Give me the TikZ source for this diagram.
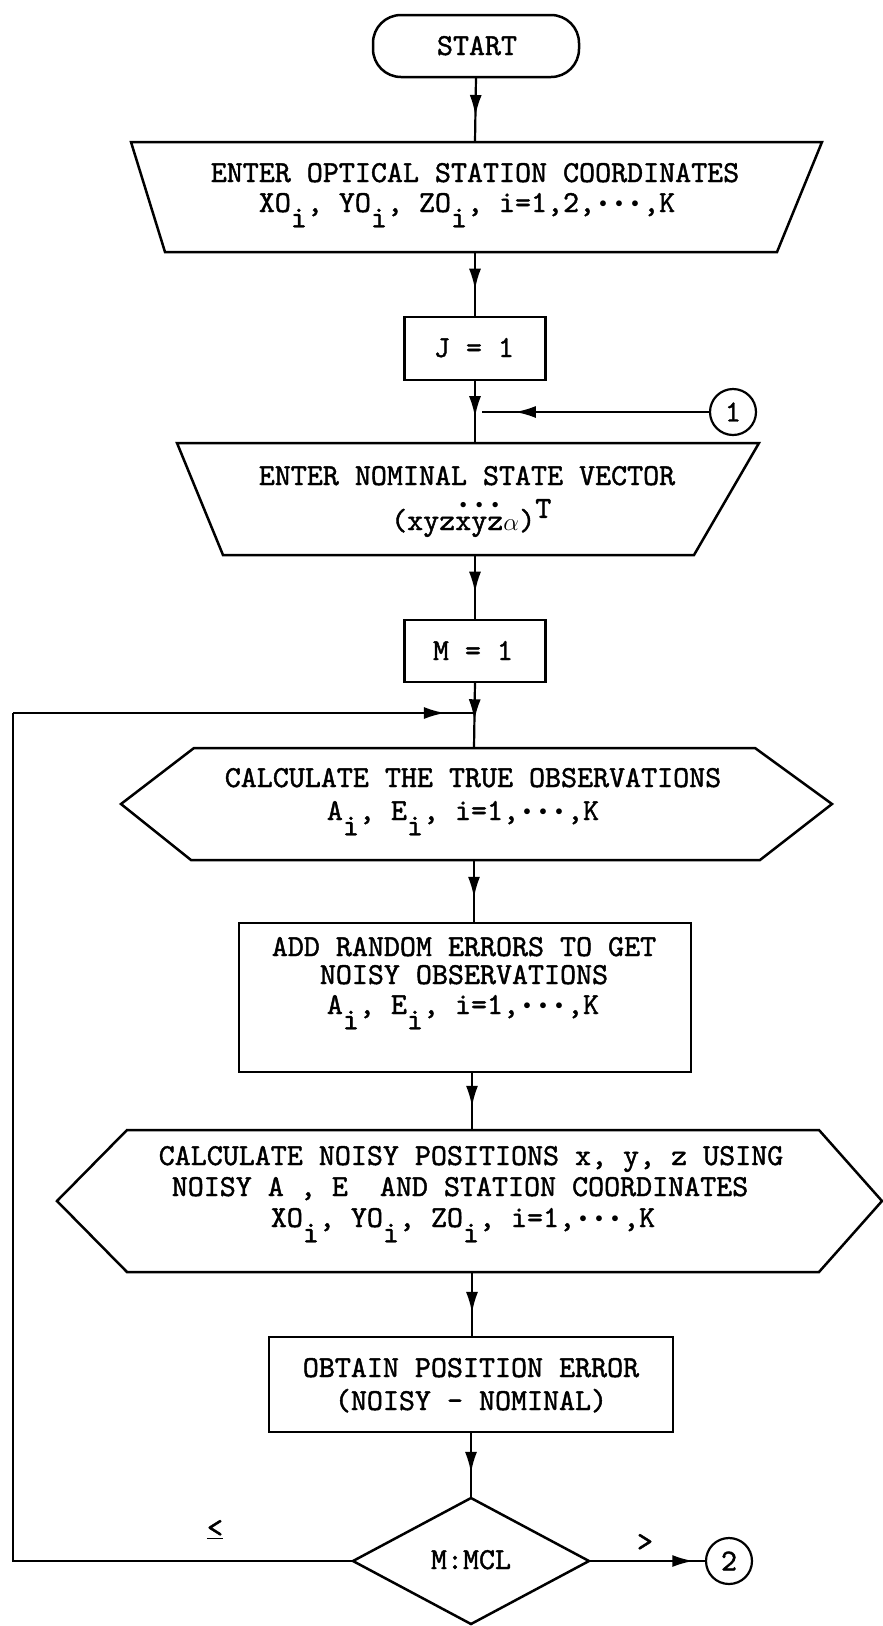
\documentclass[tikz,border=0pt]{standalone}
\usepackage{fontspec}
\usepackage{graphicx}
\usetikzlibrary{arrows.meta,decorations.markings}
\newfontfamily\tyface{lmmono10-regular.otf}[FakeBold=1.4]
\newcommand\tyf{\fontsize{30.5}{27}\selectfont\tyface}
\newcommand\sbi{\raisebox{-0.5em}{i}}
\newcommand\bul{\makebox[0.525em]{\raisebox{0.16em}{\scalebox{0.6}{$\bullet$}}}}
\newcommand\dch[1]{\makebox[0pt][l]{\raisebox{0.72em}{\makebox[0.525em]{\scalebox{0.55}{$\bullet$}}}}#1}
\begin{document}
\begin{tikzpicture}[x=1pt,y=-1pt,
  outline/.style={draw,line width=2.5pt,line join=miter},
  box/.style={outline,inner sep=0pt,outer sep=0pt},
  txt/.style={font=\tyf,anchor=base,inner sep=0pt},
  flow/.style={line width=2.2pt},
  midtip/.style={postaction={decorate},decoration={markings,mark=at position #1 with {\arrow{Latex[length=21pt,width=12pt]}}}},
  conn/.style={draw,circle,line width=2.2pt,minimum size=46pt,inner sep=0pt,font=\tyf}
]
\useasboundingbox (0,0) rectangle (883,1626);

% START
\node[box,rounded corners=28pt,minimum width=206pt,minimum height=62pt] (start) at (476,46) {};
\node[txt] (starttxt) at (477,55) {START};

% input 1
\draw[outline] (131,142) -- (822,142) -- (777,252) -- (165,252) -- cycle;
\coordinate (t1top) at (475,142);
\coordinate (t1bot) at (475,252);
\node[txt] (t1a) at (475,182) {ENTER OPTICAL STATION COORDINATES};
\node[txt] (t1b) at (467,212) {XO\sbi, YO\sbi, ZO\sbi, i=1,2,\bul\bul\bul,K};

% J = 1
\node[box,minimum width=141pt,minimum height=63pt] (j) at (475,348.5) {};
\node[txt] (jt) at (474,357) {J = 1};

% connector 1
\node[conn] (c1) at (733,412) {1};
\coordinate (join1) at (482,412);

% input 2
\draw[outline] (177,443) -- (759,443) -- (694,555) -- (223,555) -- cycle;
\coordinate (t2top) at (475,443);
\coordinate (t2bot) at (475,555);
\node[txt] (t2a) at (467,485) {ENTER NOMINAL STATE VECTOR};
\node[txt,anchor=base west] (t2b) at (391,530) {(xyz\dch{x}\dch{y}\dch{z}\makebox[0.525em]{$\alpha$})\raisebox{0.4em}{T}};

% M = 1
\node[box,minimum width=141pt,minimum height=62pt] (m) at (475,651) {};
\node[txt] (mt) at (473,660) {M = 1};
\coordinate (join2) at (474,713);

% hexagon 1
\draw[outline] (194,748) -- (755,748) -- (832,804) -- (760,860) -- (191,860) -- (121,804) -- cycle;
\coordinate (h1top) at (474,748);
\coordinate (h1bot) at (474,860);
\node[txt] (h1a) at (473,787) {CALCULATE THE TRUE OBSERVATIONS};
\node[txt] (h1b) at (463,820) {A\sbi, E\sbi, i=1,\bul\bul\bul,K};

% box 3
\node[box,minimum width=452pt,minimum height=149pt] (b3) at (465,997.5) {};
\node[txt] (b3a) at (464,956) {ADD RANDOM ERRORS TO GET};
\node[txt] (b3b) at (464,984) {NOISY OBSERVATIONS};
\node[txt] (b3c) at (463,1014) {A\sbi, E\sbi, i=1,\bul\bul\bul,K};

% hexagon 2
\draw[outline] (127,1130) -- (819,1130) -- (882,1201) -- (819,1272) -- (127,1272) -- (57,1201) -- cycle;
\coordinate (h2top) at (472,1130);
\coordinate (h2bot) at (472,1272);
\node[txt] (h2a) at (471,1165) {CALCULATE NOISY POSITIONS x, y, z USING};
\node[txt] (h2b) at (460,1196) {NOISY A~, E~~AND STATION COORDINATES};
\node[txt] (h2c) at (463,1227) {XO\sbi, YO\sbi, ZO\sbi, i=1,\bul\bul\bul,K};

% box 4
\node[box,minimum width=404pt,minimum height=95pt] (b4) at (471,1384.5) {};
\node[txt] (b4a) at (471,1377) {OBTAIN POSITION ERROR};
\node[txt] (b4b) at (471,1410) {(NOISY - NOMINAL)};

% decision
\draw[outline] (471,1498) -- (589,1561) -- (471,1624) -- (353,1561) -- cycle;
\coordinate (dtop) at (471,1498);
\coordinate (dleft) at (353,1561);
\coordinate (dright) at (589,1561);
\node[txt] (dia) at (471,1569) {M:MCL};

% connector 2
\node[conn] (c2) at (729,1561) {2};

% labels
\node[txt] (le) at (215,1537) {\underline{<}};
\node[txt] (gt) at (645,1551) {>};

% loop corners
\coordinate (lc1) at (13,1561);
\coordinate (lc2) at (13,713);

% connectors
\draw[flow,midtip=0.6] (start.south) -- (t1top);
\draw[flow,midtip=0.58] (t1bot) -- (j.north);
\draw[flow,midtip=0.59] (j.south) -- (t2top);
\draw[flow,midtip=0.855] (c1.west) -- (join1);
\draw[flow,midtip=0.58] (t2bot) -- (m.north);
\draw[flow,midtip=0.58] (m.south) -- (h1top);
\draw[flow,midtip=0.6] (h1bot) -- (b3.north -| h1bot);
\draw[flow,midtip=0.6] (b3.south -| h2top) -- (h2top);
\draw[flow,midtip=0.63] (h2bot) -- (b4.north -| h2bot);
\draw[flow,midtip=0.62] (b4.south -| dtop) -- (dtop);
\draw[flow] (dleft) -- (lc1) -- (lc2);
\draw[flow,midtip=0.937] (lc2) -- (join2);
\draw[flow,midtip=0.9] (dright) -- (c2.west);
\end{tikzpicture}
\end{document}
